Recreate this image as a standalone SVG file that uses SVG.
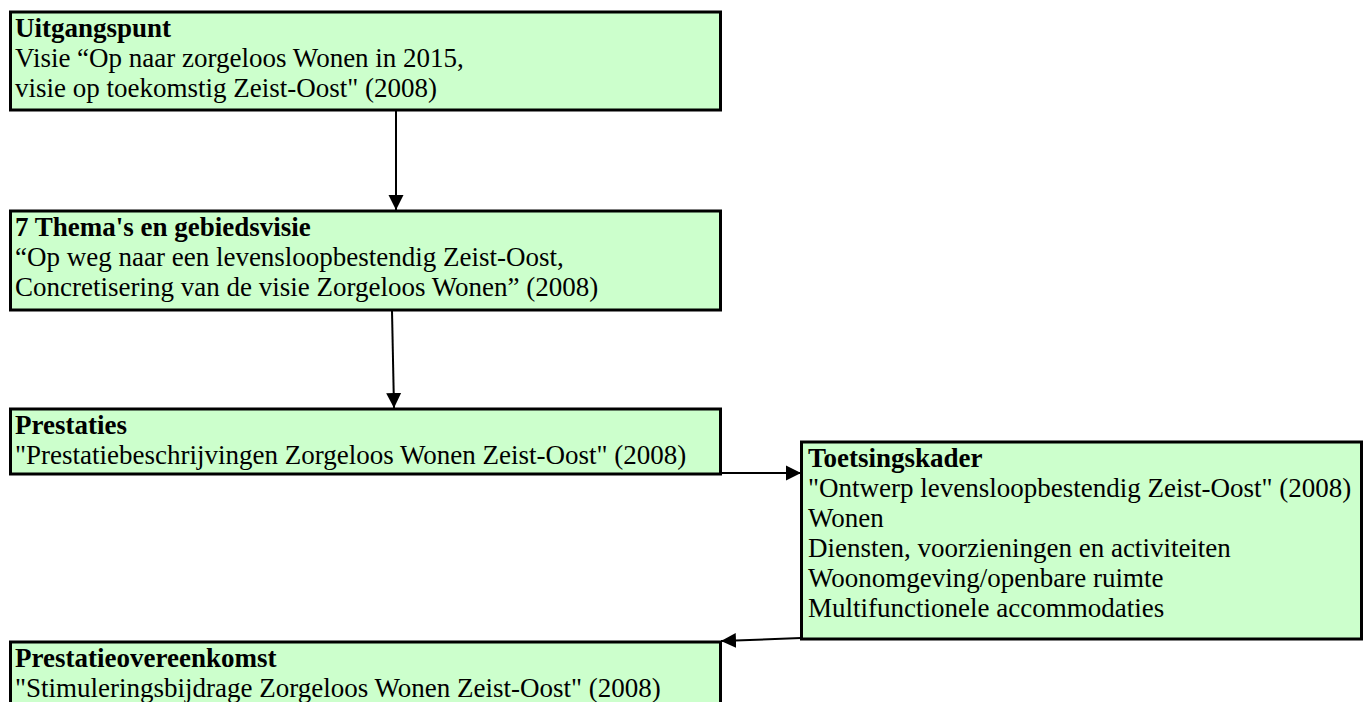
<svg xmlns="http://www.w3.org/2000/svg" width="1364" height="702" viewBox="0 0 1364 702">
<defs>
<style>
.box{fill:#ccffcc;stroke:#000;stroke-width:3}
.t{font-family:"Liberation Serif","Times New Roman",serif;font-size:27px;fill:#000}
.b{font-weight:bold}
.c{stroke:#000;stroke-width:2;fill:none}
</style>
<marker id="ah" markerUnits="userSpaceOnUse" markerWidth="16" markerHeight="16" viewBox="0 0 16 16" refX="15" refY="8" orient="auto">
<path d="M0,0.5 L15,8 L0,15.5 Z" fill="#000"/>
</marker>
</defs>
<rect width="1364" height="702" fill="#fff"/>
<g id="connectors">
<line class="c" x1="396" y1="111" x2="396" y2="210" marker-end="url(#ah)"/>
<line class="c" x1="392" y1="311" x2="394" y2="408" marker-end="url(#ah)"/>
<line class="c" x1="721" y1="473" x2="801" y2="473" marker-end="url(#ah)"/>
<line class="c" x1="801" y1="638" x2="721" y2="641" marker-end="url(#ah)"/>
</g>
<g id="uitgangspunt">
<rect class="box" x="10.5" y="12" width="710" height="98"/>
<text class="t b" x="15" y="37">Uitgangspunt</text>
<text class="t" x="15" y="67">Visie “Op naar zorgeloos Wonen in 2015,</text>
<text class="t" x="15" y="97">visie op toekomstig Zeist-Oost" (2008)</text>
</g>
<g id="themas">
<rect class="box" x="10.5" y="211" width="710" height="99"/>
<text class="t b" x="15" y="236">7 Thema's en gebiedsvisie</text>
<text class="t" x="15" y="266">“Op weg naar een levensloopbestendig Zeist-Oost,</text>
<text class="t" x="15" y="296">Concretisering van de visie Zorgeloos Wonen” (2008)</text>
</g>
<g id="prestaties">
<rect class="box" x="10.5" y="409" width="710" height="65"/>
<text class="t b" x="15" y="434">Prestaties</text>
<text class="t" x="15" y="464">"Prestatiebeschrijvingen Zorgeloos Wonen Zeist-Oost" (2008)</text>
</g>
<g id="toetsingskader">
<rect class="box" x="801.5" y="442" width="560" height="197"/>
<text class="t b" x="808" y="467">Toetsingskader</text>
<text class="t" x="808" y="497">"Ontwerp levensloopbestendig Zeist-Oost" (2008)</text>
<text class="t" x="808" y="527">Wonen</text>
<text class="t" x="808" y="557">Diensten, voorzieningen en activiteiten</text>
<text class="t" x="808" y="587">Woonomgeving/openbare ruimte</text>
<text class="t" x="808" y="617">Multifunctionele accommodaties</text>
</g>
<g id="prestatieovereenkomst">
<rect class="box" x="10.5" y="642" width="710" height="70"/>
<text class="t b" x="15" y="667">Prestatieovereenkomst</text>
<text class="t" x="15" y="697">"Stimuleringsbijdrage Zorgeloos Wonen Zeist-Oost" (2008)</text>
</g>
</svg>
